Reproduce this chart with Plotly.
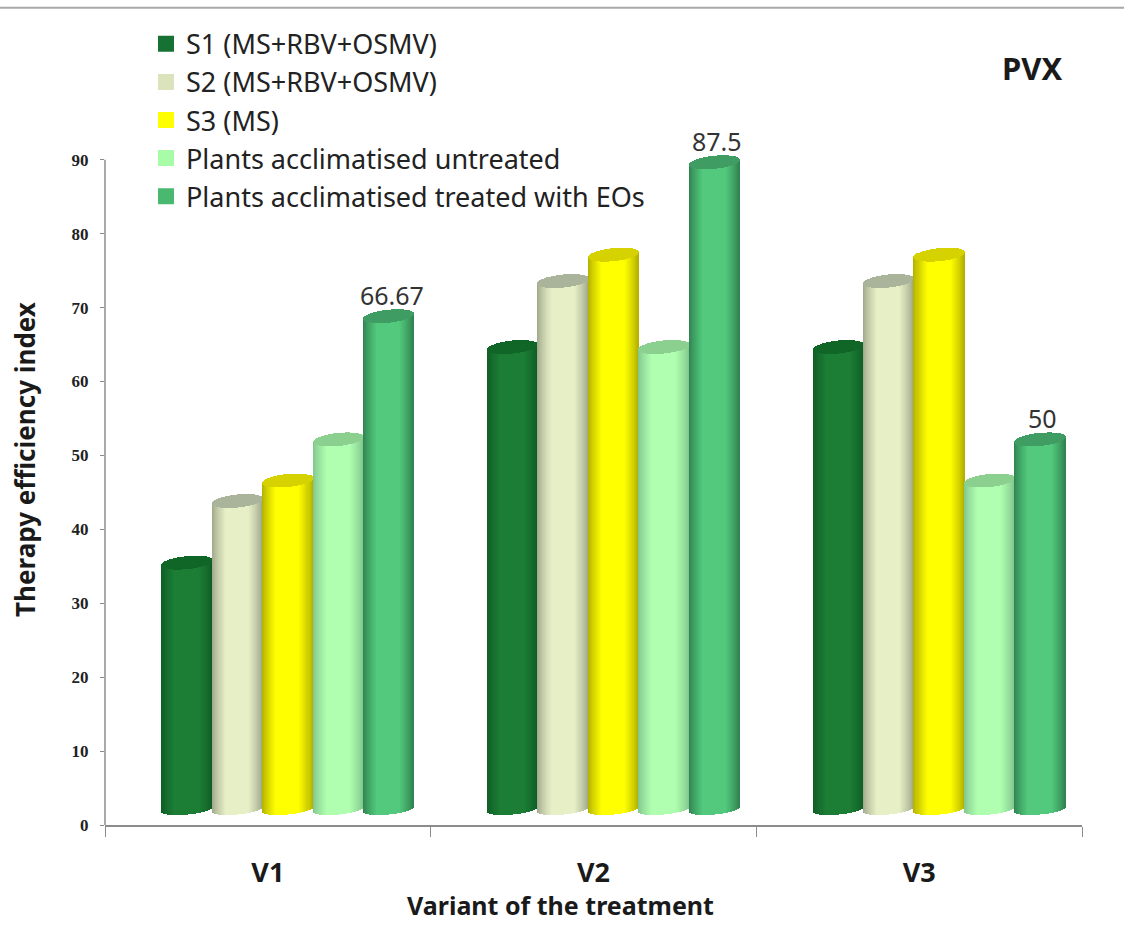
import numpy as np
import plotly.graph_objects as go

categories = ["V1", "V2", "V3"]
series_names = ["S1 (MS+RBV+OSMV)", "S2 (MS+RBV+OSMV)", "S3 (MS)",
                "Plants acclimatised untreated", "Plants acclimatised treated with EOs"]
s1_values = [33.33, 62.5, 62.5]
s2_values = [41.67, 71.43, 71.43]
s3_values = [44.44, 75.0, 75.0]
untreated_values = [50.0, 62.5, 44.44]
treated_values = [66.67, 87.5, 50.0]
all_values = [s1_values, s2_values, s3_values, untreated_values, treated_values]

center_colors = ["#1c7e35", "#e6efc6", "#ffff00", "#b0ffb0", "#52c97c"]
edge_colors = ["#0e5c25", "#9ea58a", "#b0ad00", "#7fc48c", "#2f8050"]
cap_colors = ["#0f6626", "#aab49a", "#d6d200", "#8bd08f", "#3f9c62"]
legend_colors = ["#157232", "#dbe3bc", "#ffff00", "#a8fca8", "#48b96f"]
labelled = {(4, 0): "66.67", (4, 1): "87.5", (4, 2): "50"}

W, H = 1124, 928
L, R, B = 105, 1082, 825
PXX = (R - L) / 3.0
PXY = (825 - 160) / 90.0
YMAX = 92.0
T = B - YMAX * PXY
FLOOR = (B - 809) / PXY
RIM = 6.5 / PXY
TILT = 2.5 / PXY
NS = 50
BW = 50.4 / PXX
SHIFT = 20 / PXX
FONT = "Noto Sans"


def rgb(h):
    return np.array([int(h[i:i + 2], 16) for i in (1, 3, 5)], float)


def mix(a, b, f):
    c = rgb(a) * (1 - f) + rgb(b) * f
    return "rgb(%d,%d,%d)" % tuple(c.round())


ts = (np.arange(NS) + 0.5) / NS * 2 - 1
arc = np.sqrt(1 - ts ** 2)
shade = np.clip((1 - np.abs(ts)) / 0.55, 0, 1) ** 0.8
sw = BW / NS

fig = go.Figure()
for si, vals in enumerate(all_values):
    bx, by, bb, bc = [], [], [], []
    cx, cy, cb = [], [], []
    for ci, v in enumerate(vals):
        mid = ci + 1 + SHIFT + (si - 2) * BW
        for t, a, s in zip(ts, arc, shade):
            lo = FLOOR + TILT * t - RIM * 0.85 * a
            top = FLOOR + v + TILT * t
            bx.append(mid + t * BW / 2)
            bb.append(lo)
            by.append(top - lo)
            bc.append(mix(edge_colors[si], center_colors[si], s))
            cx.append(mid + t * BW / 2)
            cb.append(top - RIM * a)
            cy.append(2 * RIM * a)
    common = dict(width=sw, showlegend=False, hoverinfo="skip", cliponaxis=False)
    fig.add_bar(x=bx, y=by, base=bb, marker=dict(color=bc, line_width=0), **common)
    fig.add_bar(x=cx, y=cy, base=cb, marker=dict(color=cap_colors[si], line_width=0), **common)

for name, col in zip(series_names, legend_colors):
    fig.add_scatter(x=[None], y=[None], mode="markers", name=name, legendgroup=name,
                    marker=dict(symbol="square", size=17, color=col))


def px(x):
    return (x - L) / (R - L)


def py(y):
    return (B - y) / (B - T)


def text_note(x, y, txt, size, angle=0):
    return dict(x=px(x), y=py(y), xref="paper", yref="paper", text=txt, showarrow=False, textangle=angle,
                xanchor="center", yanchor="middle", font=dict(family=FONT, size=size, color="#1a1a1a"))


ann = []
for (si, ci), txt in labelled.items():
    ann.append(dict(x=ci + 1 + SHIFT + (si - 2) * BW, y=(all_values[si][ci] + FLOOR + RIM) / YMAX,
                    xref="x", yref="paper", text=txt, showarrow=False, xanchor="center", yanchor="bottom",
                    xshift=3, yshift=-4, font=dict(family=FONT, size=25, color="#333333")))
ann.append(text_note(1032, 68, "<b>PVX</b>", 31))
ann.append(text_note(560, 905, "<b>Variant of the treatment</b>", 25))
ann.append(text_note(25, 460, "<b>Therapy efficiency index</b>", 26, -90))

fig.update_layout(
    width=W, height=H,
    margin=dict(l=L, r=W - R, t=T, b=H - B),
    paper_bgcolor="white", plot_bgcolor="white",
    barmode="overlay", bargap=0,
    annotations=ann,
    shapes=[dict(type="line", xref="paper", yref="paper", x0=px(0), x1=px(W), y0=py(8), y1=py(8),
                 line=dict(color="#a8a8a8", width=2)),
            dict(type="line", xref="paper", yref="y", x0=0, x1=0, y0=0, y1=90,
                 line=dict(color="#8c8c8c", width=1.5))],
    legend=dict(x=px(146), y=py(20), xanchor="left", yanchor="top", bgcolor="rgba(0,0,0,0)",
                font=dict(family=FONT, size=27, color="#222222"), traceorder="grouped", tracegroupgap=0),
    xaxis=dict(range=[0.5, 3.5], tickmode="array", tickvals=[1, 2, 3], ticktext=["<b>%s</b>" % c for c in categories],
               ticks="outside", ticklen=23, tickcolor="rgba(0,0,0,0)", showgrid=False, zeroline=False,
               showline=True, linecolor="#8c8c8c", linewidth=1.5,
               tickfont=dict(family=FONT, size=27, color="#1a1a1a"),
               minor=dict(tickmode="array", tickvals=[0.5, 1.5, 2.5, 3.5], ticks="outside", ticklen=10,
                          tickcolor="#8c8c8c", tickwidth=1, showgrid=False)),
    yaxis=dict(range=[0, YMAX], tickmode="array", tickvals=list(range(0, 100, 10)),
               ticktext=["<b>%d</b>" % v for v in range(0, 100, 10)], ticks="outside", ticklen=4,
               ticklabelstandoff=8,
               tickcolor="#8c8c8c", showgrid=False, zeroline=False, showline=False,
               tickfont=dict(family="Liberation Serif", size=17, color="#222222")),
)
fig.write_html("out.html", post_script="document.body.style.margin='0';", config={"displayModeBar": False})
